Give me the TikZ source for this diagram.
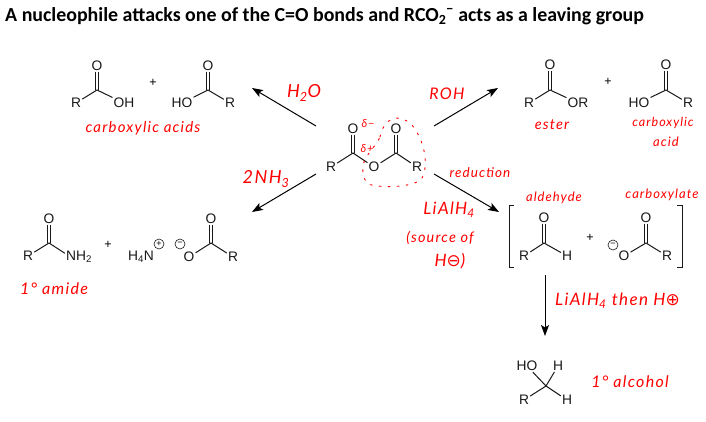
\documentclass[tikz,border=0pt]{standalone}
\usepackage{fontspec}
\setmainfont{Liberation Sans}
\newfontfamily\titlefont{Carlito}
\newfontfamily\handfont[LetterSpace=8]{Lato}
\newfontfamily\symfont{DejaVu Sans}
\usetikzlibrary{arrows.meta}
\newcommand{\handsize}[1]{\handfont\itshape\fontsize{#1}{#1}\selectfont}
\newcommand{\dblbond}[2]{%
  \draw[bond] ([xshift=-1.3pt]#1) -- ([xshift=-1.3pt]#2.south);
  \draw[bond] ([xshift=1.3pt]#1) -- ([xshift=1.3pt]#2.south);}
\tikzset{
  atom/.style={inner sep=1.2pt,font=\fontsize{13.8}{14}\selectfont,text=black!90},
  bond/.style={line width=1pt,black!90,line cap=round},
  rxn/.style={line width=1pt,black,-{Stealth[length=11pt,width=8pt,inset=2.5pt]}},
  plussign/.style={inner sep=0pt,font=\fontsize{12.5}{13}\selectfont,text=black},
  chg/.style={circle,draw=black!90,line width=0.6pt,inner sep=0pt,minimum size=10pt,font=\fontsize{9}{9}\selectfont,text=black},
  note/.style={inner sep=0pt,text=red,align=center},
  ring/.style={red,line width=0.9pt,dash pattern=on 2pt off 7pt,line cap=round},
  brk/.style={line width=1pt,black!90}
}
\begin{document}
\begin{tikzpicture}[x=1pt,y=-1pt]
\useasboundingbox (0,0) rectangle (706,422);
\node[anchor=west,inner sep=0pt,font=\titlefont\bfseries\fontsize{19.9}{22}\selectfont] (title) at (5,16) {A nucleophile attacks one of the C=O bonds and RCO\textsubscript{2}\textsuperscript{−} acts as a leaving group};

% carboxylic acid 1
\coordinate (a1c) at (97,90);
\node[atom] (a1o) at (97,66) {O};
\node[atom] (a1r) at (76,103) {R};
\node[atom] (a1oh) at (124,103) {OH};
\dblbond{a1c}{a1o}
\draw[bond] (a1r) -- (a1c) -- (a1oh);
\node[plussign] (p1) at (153,83) {+};
% carboxylic acid 2
\coordinate (a2c) at (208,90);
\node[atom] (a2o) at (208,66) {O};
\node[atom] (a2ho) at (182,103) {HO};
\node[atom] (a2r) at (230,103) {R};
\dblbond{a2c}{a2o}
\draw[bond] (a2ho) -- (a2c) -- (a2r);
\node[note,font=\handsize{15}] (n1) at (143,128) {carboxylic acids};

% anhydride
\coordinate (c1) at (353,153);
\coordinate (c2) at (396,153);
\node[atom] (o1) at (353,129) {O};
\node[atom] (o2) at (396,129) {O};
\node[atom] (r1) at (331,167) {R};
\node[atom] (om) at (374,167) {O};
\node[atom] (r2) at (417,167) {R};
\dblbond{c1}{o1}
\dblbond{c2}{o2}
\draw[bond] (r1) -- (c1) -- (om) -- (c2) -- (r2);
\node[note,font=\handsize{11}] (dm) at (368,124) {δ−};
\node[note,font=\handsize{11}] (dp) at (367,149) {δ+};
\draw[ring] (380,137) .. controls (384,118) and (398,112) .. (412,125)
  .. controls (424,140) and (430,165) .. (421,180)
  .. controls (408,188) and (380,188) .. (368,184)
  .. controls (362,178) and (362,168) .. (364,162)
  .. controls (368,152) and (376,146) .. (380,137);

% reaction arrows
\coordinate (s1) at (316,126); \coordinate (e1) at (252,88);
\coordinate (s2) at (434,126); \coordinate (e2) at (498,88);
\coordinate (s3) at (316,174); \coordinate (e3) at (252,212);
\coordinate (s4) at (434,174); \coordinate (e4) at (499,212);
\coordinate (s5) at (545,275); \coordinate (e5) at (545,336);
\draw[rxn] (s1) -- (e1);
\draw[rxn] (s2) -- (e2);
\draw[rxn] (s3) -- (e3);
\draw[rxn] (s4) -- (e4);
\draw[rxn] (s5) -- (e5);
\node[note,font=\handsize{18}] (l1) at (304,93) {H\textsubscript{2}O};
\node[note,font=\handsize{16}] (l2) at (447,94) {ROH};
\node[note,font=\handsize{18}] (l3) at (266,179) {2NH\textsubscript{3}};
\node[note,font=\handsize{13.5}] (l4) at (480,173) {reduction};
\node[note,font=\handsize{17}] (l5) at (449,210) {LiAlH\textsubscript{4}};
\node[note,font=\handsize{14.5}] (l6) at (440,238) {(source of};
\node[note,font=\handsize{17}] (l7) at (450,261) {H{\symfont ⊖})};

% ester
\coordinate (e1c) at (550,90);
\node[atom] (e1o) at (550,65) {O};
\node[atom] (e1r) at (529,103) {R};
\node[atom] (e1or) at (578,103) {OR};
\dblbond{e1c}{e1o}
\draw[bond] (e1r) -- (e1c) -- (e1or);
\node[plussign] (p2) at (608,82) {+};
\coordinate (e2c) at (666,90);
\node[atom] (e2o) at (666,65) {O};
\node[atom] (e2ho) at (639,103) {HO};
\node[atom] (e2r) at (688,103) {R};
\dblbond{e2c}{e2o}
\draw[bond] (e2ho) -- (e2c) -- (e2r);
\node[note,font=\handsize{14.5}] (n2) at (552,125) {ester};
\node[note,font=\handsize{12.5}] (n3) at (663,123) {carboxylic};
\node[note,font=\handsize{13}] (n3b) at (666,142) {acid};

% amide
\coordinate (m1c) at (49,243);
\node[atom] (m1o) at (49,219) {O};
\node[atom] (m1r) at (28,256) {R};
\node[atom] (m1n) at (79,257) {NH\textsubscript{2}};
\dblbond{m1c}{m1o}
\draw[bond] (m1r) -- (m1c) -- (m1n.165);
\node[plussign] (p3) at (108,245) {+};
\node[atom] (nh4) at (141,257) {H\textsubscript{4}N};
\node[chg] (nh4c) at (159,244) {+};
\coordinate (m2c) at (211,243);
\node[atom] (m2o) at (211,219) {O};
\node[atom] (m2om) at (189,257) {O};
\node[atom] (m2r) at (233,257) {R};
\node[chg] (m2ch) at (180,244) {−};
\dblbond{m2c}{m2o}
\draw[bond] (m2om) -- (m2c) -- (m2r);
\node[note,font=\handsize{16}] (n4) at (54,289) {1° amide};

% brackets
\coordinate (bl1) at (514,205); \coordinate (bl2) at (509,205); \coordinate (bl3) at (509,267); \coordinate (bl4) at (514,267);
\coordinate (br1) at (677,205); \coordinate (br2) at (682,205); \coordinate (br3) at (682,267); \coordinate (br4) at (677,267);
\draw[brk] (bl1) -- (bl2) -- (bl3) -- (bl4);
\draw[brk] (br1) -- (br2) -- (br3) -- (br4);

% aldehyde
\coordinate (h1c) at (544,243);
\node[atom] (h1o) at (544,218) {O};
\node[atom] (h1r) at (524,256) {R};
\node[atom] (h1h) at (567,256) {H};
\dblbond{h1c}{h1o}
\draw[bond] (h1r) -- (h1c) -- (h1h);
\node[plussign] (p4) at (590,238) {+};
\coordinate (h2c) at (646,243);
\node[atom] (h2o) at (646,218) {O};
\node[atom] (h2om) at (624,256) {O};
\node[atom] (h2r) at (667,256) {R};
\node[chg] (h2ch) at (613,245) {−};
\dblbond{h2c}{h2o}
\draw[bond] (h2om) -- (h2c) -- (h2r);
\node[note,font=\handsize{13}] (n5) at (554,198) {aldehyde};
\node[note,font=\handsize{13}] (n6) at (662,195) {carboxylate};

\node[note,anchor=west,font=\handsize{17}] (l8) at (555,301) {LiAlH\textsubscript{4} then H{\symfont ⊕}};

% alcohol
\coordinate (ac) at (546,386);
\node[atom] (aho) at (527,366) {HO};
\node[atom] (ah1) at (558,366) {H};
\node[atom] (ar) at (524,400) {R};
\node[atom] (ah2) at (567,400) {H};
\draw[bond] (aho) -- (ac) -- (ah1);
\draw[bond] (ar) -- (ac) -- (ah2);
\node[note,font=\handsize{16}] (n7) at (630,382) {1° alcohol};
\end{tikzpicture}
\end{document}
